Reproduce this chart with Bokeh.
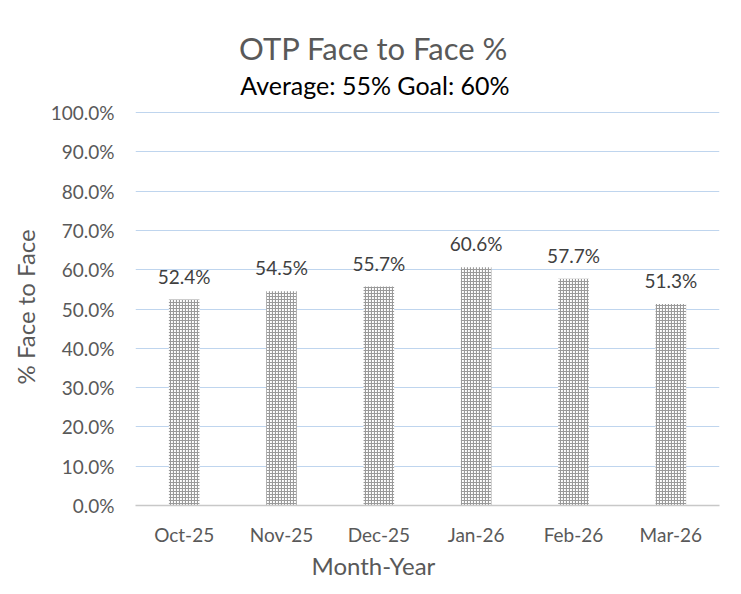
from bokeh.plotting import figure
from bokeh.models import (ColumnDataSource, FactorRange, Range1d, FixedTicker,
                          NumeralTickFormatter, LabelSet, Label, Title)
from bokeh.core.properties import value
from bokeh.embed import file_html
from bokeh.resources import INLINE

# ---- data ----
months = ["Oct-25", "Nov-25", "Dec-25", "Jan-26", "Feb-26", "Mar-26"]
face_to_face = [0.524, 0.545, 0.557, 0.606, 0.577, 0.513]
labels = ["52.4%", "54.5%", "55.7%", "60.6%", "57.7%", "51.3%"]
y_ticks = [0.0, 0.1, 0.2, 0.3, 0.4, 0.5, 0.6, 0.7, 0.8, 0.9, 1.0]
title_text = "OTP Face to Face %"
subtitle_text = "Average: 55% Goal: 60%"
x_title = "Month-Year"
y_title = "% Face to Face"

FONT = "Lato"
GREY = "#595959"

src = ColumnDataSource(dict(month=months, val=face_to_face, lab=labels))

# frame spans the full height above the x axis; y data 0..1 occupies the lower part
p = figure(width=733, height=586, x_range=FactorRange(factors=months, range_padding=0),
           y_range=Range1d(0, 505 / 393), output_backend="svg", toolbar_location=None,
           title=None, min_border_left=133, min_border_right=14,
           min_border_top=0, min_border_bottom=81)
p.outline_line_color = None
p.background_fill_color = "white"
p.border_fill_color = "white"

p.vbar(x="month", top="val", width=0.314, source=src,
       fill_color="white", line_color=None,
       hatch_pattern="+", hatch_color="#9a9a9a", hatch_scale=3, hatch_weight=1.2)

p.add_layout(LabelSet(x="month", y="val", text="lab", source=src,
                      text_align="center", text_baseline="alphabetic", y_offset=16,
                      text_font=value(FONT), text_font_size="19px", text_color="#404040"))

# axes
p.yaxis.ticker = FixedTicker(ticks=y_ticks)
p.yaxis.formatter = NumeralTickFormatter(format="0.0%")
p.yaxis.axis_line_color = None
p.yaxis.major_tick_line_color = None
p.yaxis.minor_tick_line_color = None
p.yaxis.major_tick_out = 0
p.yaxis.major_label_standoff = 21
p.yaxis.major_label_text_font = FONT
p.yaxis.major_label_text_font_size = "19px"
p.yaxis.major_label_text_color = GREY

p.xaxis.axis_line_color = "#c8c8c8"
p.xaxis.axis_line_width = 1.5
p.xaxis.major_tick_line_color = None
p.xaxis.minor_tick_line_color = None
p.xaxis.major_tick_out = 0
p.xaxis.major_label_standoff = 17
p.xaxis.major_label_text_font = FONT
p.xaxis.major_label_text_font_size = "19px"
p.xaxis.major_label_text_color = GREY

p.xgrid.grid_line_color = None
p.ygrid.grid_line_color = "#bfd5ee"
p.ygrid.grid_line_width = 1

# axis titles (centred on the whole chart like the reference)
p.add_layout(Title(text=x_title, align="left", offset=176, standoff=0,
                   text_font=FONT, text_font_size="24px", text_font_style="normal",
                   text_color=GREY), "below")
p.add_layout(Title(text=y_title, align="left", offset=121, standoff=16,
                   text_font=FONT, text_font_size="24px", text_font_style="normal",
                   text_color=GREY), "left")

# chart title and subtitle
p.add_layout(Label(x=2.447, y=1.163, text=title_text,
                   text_align="center", text_baseline="alphabetic",
                   text_font=FONT, text_font_size="31px", text_color=GREY))
p.add_layout(Label(x=2.46, y=1.071, text=subtitle_text,
                   text_align="center", text_baseline="alphabetic",
                   text_font=FONT, text_font_size="25px", text_color="black"))

open("out.html", "w").write(file_html(p, INLINE))
